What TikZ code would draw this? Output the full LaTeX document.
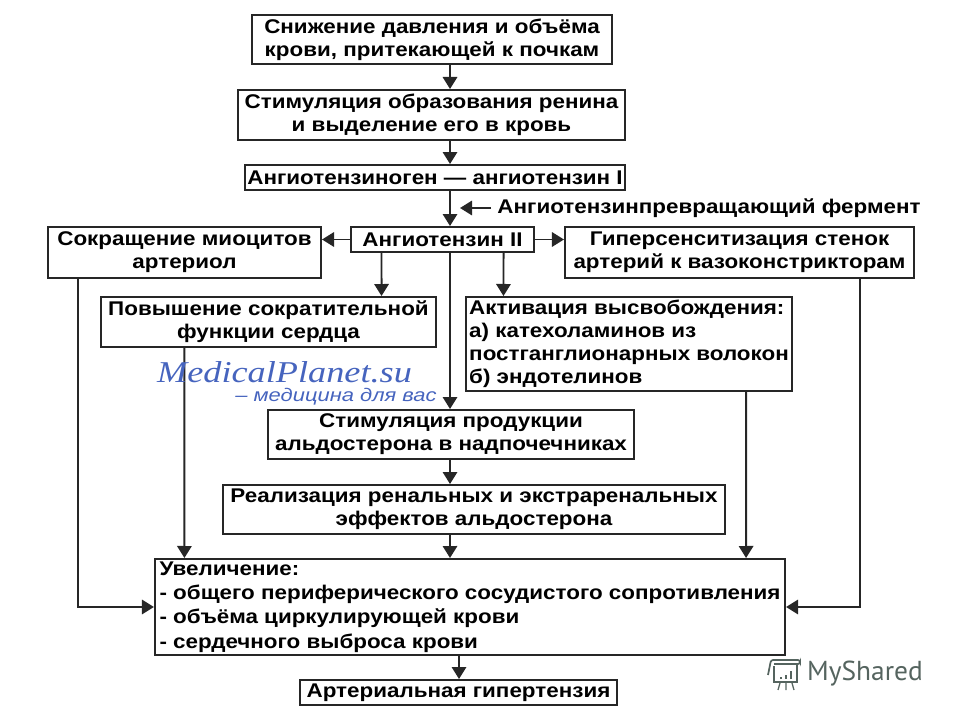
\documentclass[tikz,border=0pt]{standalone}
\usepackage{fontspec}
\setmainfont[FakeStretch=1.13]{Liberation Sans}
\newfontfamily\stampfont[FakeStretch=1.2]{Liberation Serif}
\newfontfamily\stampsans[FakeStretch=1.2]{Liberation Sans}
\newfontfamily\shareFont{PT Sans}
\usetikzlibrary{arrows.meta}
\definecolor{planetblue}{RGB}{70,100,190}
\definecolor{sharegray}{RGB}{85,100,95}

\tikzset{
    >={Triangle[length=0.3cm,width=0.36cm]},
    box/.style={draw=black!85, line width=1.4pt, inner sep=0pt, align=center,
        font=\fontsize{14.1}{16.4}\selectfont\bfseries},
    listbox/.style={box, align=left},
    link/.style={line width=1.4pt, draw=black!85}
}

\begin{document}
\begin{tikzpicture}[x=0.025cm, y=-0.025cm]
    \useasboundingbox (0,0) rectangle (960,720);

    % Main column
    \node[box, minimum width=9cm, minimum height=1.225cm] (fall) at (432,39.5)
        {Снижение давления и объёма\\крови, притекающей к почкам};
    \node[box, minimum width=9.675cm, minimum height=1.25cm] (renin) at (431.5,115)
        {Стимуляция образования ренина\\и выделение его в кровь};
    \node[box, minimum width=9.5cm, minimum height=0.625cm] (ang1) at (435,177.5)
        {Ангиотензиноген — ангиотензин I};
    \node[box, minimum width=4.575cm, minimum height=0.625cm] (ang2) at (442.5,239.5)
        {Ангиотензин II};

    % Enzyme label
    \node[inner sep=0pt, font=\fontsize{14.1}{16.4}\selectfont\bfseries] (enzyme) at (709,208)
        {Ангиотензинпревращающий фермент};

    % Side boxes
    \node[box, minimum width=6.825cm, minimum height=1.275cm] (myo) at (184.5,252.5)
        {Сокращение миоцитов\\артериол};
    \node[box, minimum width=8.725cm, minimum height=1.275cm] (hyper) at (739.5,252.5)
        {Гиперсенситизация стенок\\артерий к вазоконстрикторам};
    \node[box, minimum width=8.375cm, minimum height=1.25cm] (heart) at (268.5,322)
        {Повышение сократительной\\функции сердца};
    \node[listbox, minimum width=8.15cm, minimum height=2.35cm] (release) at (629,344)
        {Активация высвобождения:\\а) катехоламинов из\\постганглионарных волокон\\б) эндотелинов};

    % Lower column
    \node[box, minimum width=9.15cm, minimum height=1.225cm] (aldo) at (451,434.5)
        {Стимуляция продукции\\альдостерона в надпочечниках};
    \node[box, minimum width=12.55cm, minimum height=1.225cm] (effect) at (474,509.5)
        {Реализация ренальных и экстраренальных\\эффектов альдостерона};
    \node[listbox, minimum width=15.75cm, minimum height=2.4cm,
        font=\fontsize{14.1}{17.2}\selectfont\bfseries] (rise) at (470,607)
        {Увеличение:\\- общего периферического сосудистого сопротивления\\- объёма циркулирующей крови\\- сердечного выброса крови};
    \node[box, minimum width=7.925cm, minimum height=0.625cm] (hypert) at (458.5,692.5)
        {Артериальная гипертензия};

    % Arrows down the middle
    \draw[link, ->] ([xshift=0.45cm]fall.south) -- ([xshift=0.4625cm]renin.north);
    \draw[link, ->] ([xshift=0.4625cm]renin.south) -- ([xshift=0.375cm]ang1.north);
    \draw[link, ->] ([xshift=0.375cm]ang1.south) -- ([xshift=0.1875cm]ang2.north);
    \draw[link, ->] ([xshift=0.1875cm]ang2.south) -- ([xshift=-0.025cm]aldo.north);
    \draw[link, ->] ([xshift=-0.025cm]aldo.south) -- ([xshift=-0.6cm]effect.north);
    \draw[link, ->] ([xshift=-0.6cm]effect.south) -- ([xshift=-0.5cm]rise.north);
    \draw[link, ->] ([xshift=-0.275cm]rise.south) -- ([xshift=0.0125cm]hypert.north);

    % Enzyme arrow
    \coordinate (enzymetip) at (460,208);
    \draw[link, ->] ([xshift=-0.15cm]enzyme.west) -- (enzymetip);

    % Arrows out of Angiotensin II
    \draw[link, ->] (ang2.west) -- (ang2.west -| myo.east);
    \draw[link, ->] (ang2.east) -- (ang2.east -| hyper.west);
    \draw[link, ->] ([xshift=-1.525cm]ang2.south) -- ([xshift=2.825cm]heart.north);
    \draw[link, ->] ([xshift=1.525cm]ang2.south) -- ([xshift=-3.1375cm]release.north);

    % Arrows into the large box
    \draw[link, ->] ([xshift=-2.65cm]myo.south) |- (rise.west);
    \draw[link, ->] ([xshift=3cm]hyper.south) |- (rise.east);
    \draw[link, ->] ([xshift=-2.1cm]heart.south) -- ([xshift=-7.1375cm]rise.north);
    \draw[link, ->] ([xshift=2.925cm]release.south) -- ([xshift=6.9cm]rise.north);

    % Watermark
    \node[inner sep=0pt, text=planetblue, font=\stampfont\itshape\fontsize{21.5}{21.5}\selectfont] (planet) at (284.5,372) {MedicalPlanet.su};
    \node[inner sep=0pt, text=planetblue, font=\stampsans\itshape\fontsize{13}{13}\selectfont] (planetline) at (336,397) {– медицина для вас};

    % MyShared logo
    \node[inner sep=0pt, text=sharegray, font=\shareFont\fontsize{19.5}{19.5}\selectfont] (shared) at (865,674) {MyShared};
    \draw[sharegray, line width=1pt] (774,666) -- (774,682) -- (797,682) -- (797,664);
    \draw[sharegray, line width=1.2pt, rounded corners=1.5pt] (768,675) -- (771,660) -- (800,660) -- (800,664) -- (774,664);
    \foreach \barx/\bartop in {781/677, 786/675, 791/671}
        \draw[sharegray, line width=1.5pt] (\barx,679) -- (\barx,\bartop);
    \draw[sharegray, line width=0.9pt] (780,683) -- (778,690) (786,683) -- (786,690) (792,683) -- (794,690);
\end{tikzpicture}
\end{document}
